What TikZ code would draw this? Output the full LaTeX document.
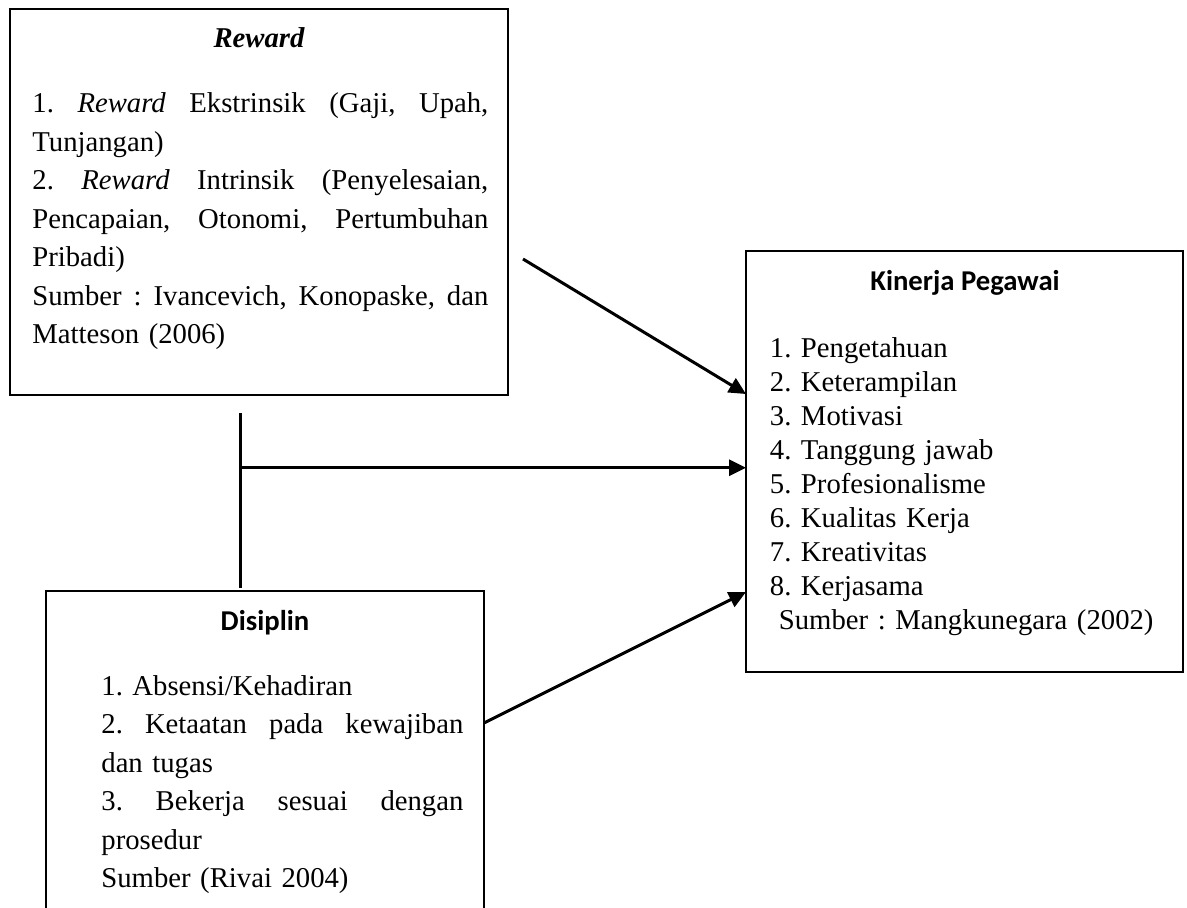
\documentclass[tikz,border=0pt]{standalone}
\usepackage{fontspec}
\setmainfont{Liberation Serif}
\newfontfamily\calibri{Carlito}
\usetikzlibrary{arrows.meta,calc}
\newcommand\rwline[1]{\leavevmode\hbox to 228pt{#1}}
\newcommand\dsline[1]{\leavevmode\hbox to 181pt{#1}}
\begin{document}
\frenchspacing
\begin{tikzpicture}[x=0.5pt,y=-0.5pt,
  box/.style={draw, line width=1pt, inner sep=0pt, outer sep=0pt, anchor=north west},
  txt/.style={inner sep=0pt, anchor=base west, align=left},
  wide/.style={font=\fontsize{14.35pt}{19.25pt}\selectfont\frenchspacing},
  narrow/.style={font=\fontsize{14.35pt}{17.05pt}\selectfont\frenchspacing},
  serifttl/.style={inner sep=0pt, anchor=base, font=\fontsize{14.35pt}{17pt}\selectfont\bfseries\itshape},
  sansttl/.style={inner sep=0pt, anchor=base, font=\fontsize{14.35pt}{17pt}\selectfont\calibri\bfseries},
  conn/.style={line width=1.5pt},
  arr/.style={conn, -{Triangle[length=8.5pt,width=8pt]}}]
\clip (0,0) rectangle (1187,907);
% boxes
\node[box, minimum width=249pt, minimum height=193pt] (reward) at (10,9) {};
\node[box, minimum width=218.5pt, minimum height=210.5pt] (kinerja) at (746,251) {};
\node[box, minimum width=219pt, minimum height=180pt] (disiplin) at (46,591) {};
% titles
\node[serifttl] (rewardttl) at (259,47) {Reward};
\node[sansttl] (kinerjattl) at (965,290) {Kinerja Pegawai};
\node[sansttl] (disiplinttl) at (265,630) {Disiplin};
% texts
\node[txt, wide, text width=228pt] (rewardtxt) at (32,112.5) {%
\rwline{1.\hfill\textit{Reward}\hfill Ekstrinsik\hfill (Gaji,\hfill Upah,}\\
Tunjangan)\\
\rwline{2.\hfill\textit{Reward}\hfill Intrinsik\hfill (Penyelesaian,}\\
\rwline{Pencapaian,\hfill Otonomi,\hfill Pertumbuhan}\\
Pribadi)\\
\rwline{Sumber\hfill :\hfill Ivancevich,\hfill Konopaske,\hfill dan}\\
Matteson (2006)};
\node[txt, narrow, text width=210pt] (kinerjatxt) at (769.5,357) {%
1. Pengetahuan\\
2. Keterampilan\\
3. Motivasi\\
4. Tanggung jawab\\
5. Profesionalisme\\
6. Kualitas Kerja\\
7. Kreativitas\\
8. Kerjasama\\
\hspace*{4.5pt}Sumber : Mangkunegara (2002)};
\node[txt, wide, text width=181pt] (disiplintxt) at (101,695) {%
1. Absensi/Kehadiran\\
\dsline{2.\hfill Ketaatan\hfill pada\hfill kewajiban}\\
dan tugas\\
\dsline{3.\hfill Bekerja\hfill sesuai\hfill dengan}\\
prosedur\\
Sumber (Rivai 2004)};
% connector points
\coordinate (rstart) at (523,259);
\coordinate (vtop) at ($(reward.south west)+(230,18)$);
\coordinate (vbot) at ($(disiplin.north west)+(194,-3)$);
\coordinate (vmid) at ($(vtop)!0.313!(vbot)$);
% connectors
\draw[arr] (rstart) -- ($(kinerja.north west)+(0,143)$);
\draw[conn] (vtop) -- (vbot);
\draw[arr] (vmid) -- (vmid -| kinerja.west);
\draw[arr] ($(disiplin.north east)+(0,132)$) -- ($(kinerja.north west)+(0,341)$);
\end{tikzpicture}
\end{document}
